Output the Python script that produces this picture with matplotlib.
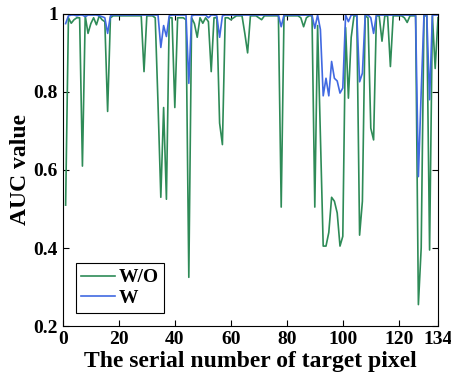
# AUC for each target pixel, with (W) and without (W/O) the weighting
import matplotlib
matplotlib.use('Agg')

import numpy as np
import matplotlib.pyplot as plt

plt.rcParams['font.family'] = ['Liberation Serif', 'DejaVu Serif']
plt.rcParams['font.weight'] = 'bold'

# Data
pixel_ids = np.arange(1, 135)

auc_wo = [
    0.51, 0.99, 0.976, 0.985, 0.99, 0.99, 0.61, 0.995, 0.95, 0.975,
    0.99, 0.972, 0.995, 0.985, 0.98, 0.75, 0.99, 0.995, 0.995, 0.995,
    0.995, 0.995, 0.995, 0.995, 0.995, 0.995, 0.995, 0.995, 0.852, 0.995,
    0.995, 0.995, 0.99, 0.77, 0.53, 0.76, 0.525, 0.99, 0.99, 0.76,
    0.99, 0.99, 0.99, 0.985, 0.325, 0.99, 0.975, 0.94, 0.99, 0.976,
    0.99, 0.98, 0.852, 0.99, 0.99, 0.72, 0.665, 0.99, 0.99, 0.985,
    0.99, 0.995, 0.995, 0.995, 0.95, 0.90, 0.995, 0.995, 0.995, 0.99,
    0.985, 0.995, 0.995, 0.995, 0.995, 0.995, 0.995, 0.505, 0.995, 0.995,
    0.995, 0.995, 0.995, 0.995, 0.99, 0.967, 0.99, 0.995, 0.995, 0.505,
    0.97, 0.69, 0.405, 0.405, 0.44, 0.53, 0.52, 0.49, 0.405, 0.43,
    0.965, 0.784, 0.94, 0.995, 0.995, 0.433, 0.52, 0.995, 0.99, 0.707,
    0.677, 0.995, 0.995, 0.93, 0.995, 0.995, 0.865, 0.995, 0.995, 0.995,
    0.995, 0.99, 0.978, 0.995, 0.995, 0.995, 0.255, 0.40, 0.995, 0.995,
    0.395, 0.995, 0.86, 0.99,
]

auc_w = [
    0.975, 0.995, 0.997, 0.997, 0.995, 0.997, 0.997, 0.993, 0.997, 0.997,
    0.997, 0.997, 0.995, 0.993, 0.99, 0.95, 0.995, 0.997, 0.997, 0.997,
    0.997, 0.997, 0.997, 0.997, 0.997, 0.997, 0.997, 0.997, 0.997, 0.997,
    0.997, 0.997, 0.997, 0.997, 0.914, 0.97, 0.942, 0.995, 0.997, 0.997,
    0.997, 0.997, 0.997, 0.997, 0.822, 0.995, 0.997, 0.997, 0.997, 0.997,
    0.997, 0.99, 0.997, 0.997, 0.995, 0.94, 0.995, 0.997, 0.997, 0.997,
    0.997, 0.997, 0.997, 0.997, 0.997, 0.997, 0.997, 0.997, 0.997, 0.997,
    0.997, 0.997, 0.997, 0.997, 0.997, 0.997, 0.997, 0.967, 0.997, 0.997,
    0.997, 0.997, 0.997, 0.997, 0.997, 0.997, 0.997, 0.997, 0.997, 0.963,
    0.997, 0.96, 0.79, 0.835, 0.79, 0.878, 0.835, 0.828, 0.797, 0.81,
    0.997, 0.98, 0.997, 0.997, 0.997, 0.826, 0.848, 0.997, 0.997, 0.99,
    0.95, 0.997, 0.997, 0.997, 0.997, 0.997, 0.997, 0.997, 0.997, 0.997,
    0.997, 0.997, 0.997, 0.997, 0.997, 0.997, 0.583, 0.80, 0.997, 0.997,
    0.78, 0.997, 0.997, 0.997,
]

x_ticks = [0, 20, 40, 60, 80, 100, 120, 134]
y_ticks = [0.2, 0.4, 0.6, 0.8, 1.0]
y_tick_labels = ['0.2', '0.4', '0.6', '0.8', '1']

# Figure
fig = plt.figure(figsize=(4.52, 3.85), dpi=100)
ax = fig.add_axes([0.139, 0.153, 0.830, 0.811])

ax.plot(pixel_ids, auc_wo, color='#2e8b57', lw=1.2, label='W/O')
ax.plot(pixel_ids, auc_w, color='#4169e1', lw=1.2, label='W')

ax.set_xlim(0, 134)
ax.set_ylim(0.2, 1.0)
ax.set_xticks(x_ticks)
ax.set_yticks(y_ticks)
ax.set_yticklabels(y_tick_labels)
ax.tick_params(direction='in', top=True, right=True, labelsize=14,
               length=4, width=0.8)
for lab in ax.get_xticklabels() + ax.get_yticklabels():
    lab.set_fontweight('bold')
for s in ax.spines.values():
    s.set_linewidth(0.8)

ax.set_xlabel('The serial number of target pixel', fontsize=17,
              fontweight='bold', labelpad=2)
ax.set_ylabel('AUC value', fontsize=17, fontweight='bold', labelpad=2)

leg = ax.legend(loc='lower left', bbox_to_anchor=(0.034, 0.043),
                borderaxespad=0, fancybox=False, edgecolor='black',
                framealpha=1, handlelength=1.75,
                handletextpad=0.15, borderpad=0.3, labelspacing=0.15,
                prop={'weight': 'bold', 'size': 14})
leg.get_frame().set_linewidth(0.8)

plt.savefig('out.png', dpi=100)
print("Saved out.png")
